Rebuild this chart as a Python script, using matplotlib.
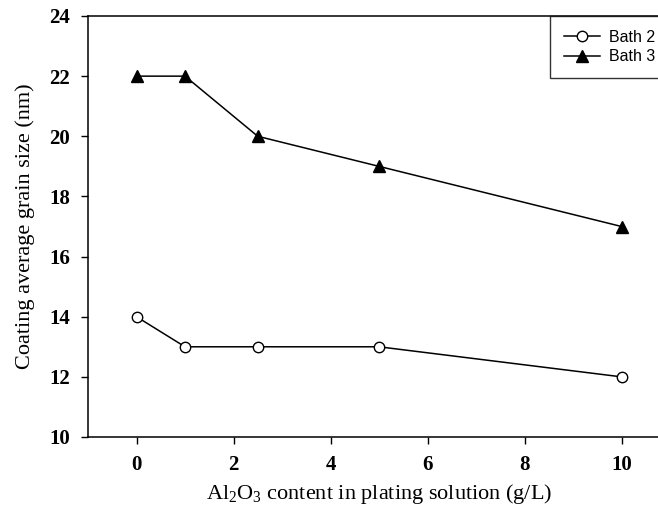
import matplotlib
matplotlib.use("Agg")
import matplotlib.pyplot as plt

plt.rcParams['mathtext.fontset'] = 'custom'
plt.rcParams['mathtext.rm'] = 'Liberation Serif'
plt.rcParams['mathtext.it'] = 'Liberation Serif:italic'

# Al2O3 content (g/L) and grain size (nm) for each bath
al2o3 = [0, 1, 2.5, 5, 10]
bath2 = [14, 13, 13, 13, 12]
bath3 = [22, 22, 20, 19, 17]

xticks = [0, 2, 4, 6, 8, 10]
yticks = [10, 12, 14, 16, 18, 20, 22, 24]

fig = plt.figure(figsize=(6.58, 5.07), dpi=100)
ax = fig.add_axes([88 / 658, 1 - 437 / 507, 582 / 658, 421 / 507])

ax.plot(al2o3, bath2, color='k', lw=1.1, marker='o', ms=7.5,
        mfc='white', mec='k', mew=1.0, label='Bath 2')
ax.plot(al2o3, bath3, color='k', lw=1.1, marker='^', ms=8,
        mfc='k', mec='k', label='Bath 3')

ax.set_xlim(-1, 11)
ax.set_ylim(10, 24)
ax.set_xticks(xticks)
ax.set_yticks(yticks)

for side in ['top', 'bottom', 'left', 'right']:
    ax.spines[side].set_linewidth(1.1)
ax.spines['right'].set_visible(False)

ax.tick_params(direction='out', length=5, width=1.0, pad=8)
tickfont = dict(family='Liberation Serif', weight='bold', size=15)
ax.set_xticklabels([str(t) for t in xticks], fontdict=tickfont)
ax.set_yticklabels([str(t) for t in yticks], fontdict=tickfont)

labfont = dict(family='Liberation Serif', size=16)
ax.set_xlabel(r'Al$_\mathrm{2}$O$_\mathrm{3}$ content in plating solution (g/L)',
              fontdict=labfont, labelpad=5)
ax.set_ylabel('Coating average grain size (nm)', fontdict=labfont,
              labelpad=10)

# legend box runs off the right edge, top flush with the axes frame
top = 1 - 16 / 507
leg = fig.legend(loc='upper left',
                 bbox_to_anchor=(550 / 658, 0.5, 0.2, top - 0.5),
                 mode='expand',
                 prop=dict(family='Liberation Sans', size=11.5),
                 frameon=True, fancybox=False, edgecolor='k',
                 handlelength=2.3, handletextpad=0.55, labelspacing=0.3,
                 borderpad=0.85, borderaxespad=0)
leg.get_frame().set_linewidth(1.0)

fig.savefig('out.png', dpi=100)
